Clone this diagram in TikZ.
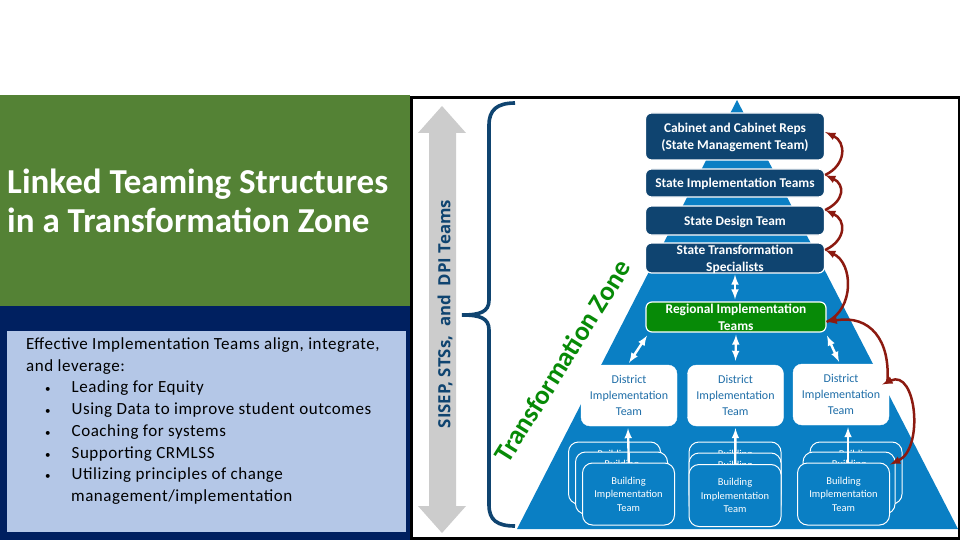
\documentclass[tikz,border=0pt]{standalone}
\usepackage{fontspec}
\setmainfont{Carlito}
\newfontfamily\supportfont{Open Sans}
\usetikzlibrary{arrows}
\definecolor{navyband}{HTML}{002060}
\definecolor{leafgreen}{HTML}{548235}
\definecolor{paleblue}{HTML}{B4C7E7}
\definecolor{pyrblue}{HTML}{0A7FC4}
\definecolor{statenavy}{HTML}{0F4470}
\definecolor{zonegreen}{HTML}{078A07}
\definecolor{linkred}{HTML}{8C1A10}
\definecolor{teamtext}{HTML}{1F6EA8}
\tikzset{
	statebox/.style={draw=white,line width=1.2pt,fill=statenavy,rounded corners=6pt,minimum width=179pt,align=center,text=white,text depth=0pt,font=\fontsize{13.4}{16.5}\selectfont\bfseries,inner sep=0pt},
	cutbox/.style={statebox,minimum height=30pt,text height=26pt},
	districtbox/.style={draw=white,fill=white,rounded corners=9pt,minimum width=96pt,minimum height=61pt,align=center,text=teamtext,text depth=0pt,font=\fontsize{12}{15.7}\selectfont,inner sep=0pt},
	buildbox/.style={draw=white,line width=1pt,fill=pyrblue,rounded corners=10pt,minimum width=92pt,minimum height=62pt,align=center,text=white,text depth=0pt,font=\fontsize{10.5}{13.5}\selectfont,inner sep=0pt},
	backbox/.style={buildbox,text depth=38pt},
	linkarrow/.style={arrows={latex-latex},white,line width=2.4pt},
	redarrow/.style={arrows={-latex},linkred,line width=2.5pt}
}
\newcommand{\bul}[1]{\hspace*{19pt}{\fontsize{11}{11}\selectfont•}\hspace{21pt}#1}
\begin{document}
\begin{tikzpicture}[x=1pt,y=-1pt]
	\useasboundingbox (0,0) rectangle (960,540);
	
	\node[fill=leafgreen,minimum width=410pt,minimum height=211pt,inner sep=0pt] (titlepanel)
	at (205,200.5) {};
	\node[fill=navyband,minimum width=410pt,minimum height=234pt,inner sep=0pt] (bodypanel)
	at (205,423) {};
	\node[draw=navyband,fill=paleblue,minimum width=400pt,minimum height=202pt,inner sep=0pt] (bodybox)
	at (206,431) {};
	\node[draw=black,line width=3pt,fill=white,minimum width=548pt,minimum height=440pt,inner sep=0pt] (frame)
	at (685,318) {};
	
	\node[anchor=west,align=left,text=white,font=\fontsize{35}{39}\selectfont\bfseries,inner sep=0pt] (title)
	at (7,201) {Linked Teaming Structures\\in a Transformation Zone};
	\node[anchor=north west,align=left,text=black,font=\fontsize{17}{21.7}\selectfont\addfontfeature{LetterSpace=3.2},inner sep=0pt] (body)
	at (26,337.5) {Effective Implementation Teams align, integrate,\\and leverage:\\
	\bul{Leading for Equity}\\\bul{Using Data to improve student outcomes}\\
	\bul{Coaching for systems}\\\bul{Supporting CRMLSS}\\
	\bul{Utilizing principles of change}\\\hspace*{45pt}management/implementation};
	
	% support arrow and brace
	\fill[black!20] (442,106) -- (466,133) -- (456,133) -- (456,506) -- (466,506) -- (442,533)
	-- (418,506) -- (429,506) -- (429,133) -- (418,133) -- cycle;
	\node[rotate=90,text=statenavy,font=\supportfont\fontsize{16.8}{16.8}\selectfont\bfseries,inner sep=0pt] (support)
	at (445,314) {SISEP, STSs,\ \ and\ \ DPI Teams};
	\draw[statenavy,line width=3.6pt] (515,103) .. controls (497,103) and (489,110) .. (489,125)
	-- (489,300) .. controls (489,312) and (480,315) .. (462,315)
	.. controls (480,315) and (489,318) .. (489,330)
	-- (489,505) .. controls (489,520) and (497,526) .. (515,526);
	
	\node[rotate=58,text=zonegreen,font=\fontsize{27}{27}\selectfont\bfseries,inner sep=0pt] (zone)
	at (562.5,361) {Transformation Zone};
	
	% the pyramid goes behind every team
	\fill[pyrblue] (737,100) -- (958,529) -- (517,529) -- cycle;
	
	\node[statebox,minimum height=47pt] (cabinet)
	at (735,136.5) {Cabinet and Cabinet Reps\\(State Management Team)};
	\node[statebox,minimum height=28pt] (implement)
	at (735,183) {State Implementation Teams};
	\node[statebox,minimum height=29pt] (design)
	at (735,220.5) {State Design Team};
	\node[cutbox] (specialists)
	at (735,258) {State Transformation\\Specialists};
	\node[cutbox,fill=zonegreen,minimum width=180pt] (regional)
	at (736,317) {Regional Implementation\\Teams};
	
	\node[districtbox] (district1)
	at (629,395.5) {District\\Implementation\\Team};
	\node[districtbox] (district2)
	at (735.5,395.5) {District\\Implementation\\Team};
	\node[districtbox] (district3)
	at (841,394.5) {District\\Implementation\\Team};
	
	\node[backbox] (back1) at (614.5,473) {Building};
	\node[backbox] (back2) at (735,473) {Building};
	\node[backbox] (back3) at (856,473) {Building};
	\node[backbox] (middle1) at (621.5,483) {Building};
	\node[backbox] (middle2) at (735,484) {Building};
	\node[backbox] (middle3) at (849,483) {Building};
	
	\path[linkarrow] ([yshift=-1pt]specialists.south) edge ([xshift=-1pt,yshift=2pt]regional.north);
	\path[linkarrow] ([yshift=-2pt]regional.south) edge ([yshift=4pt]district2.north);
	\path[linkarrow] ([xshift=-89pt,yshift=-3pt]regional.south) edge ([yshift=2pt]district1.north);
	\path[linkarrow] ([xshift=91pt,yshift=-3pt]regional.south) edge ([yshift=2pt,xshift=-2pt]district3.north);
	\path[linkarrow] ([xshift=-1pt,yshift=-2pt]district1.south) edge ([yshift=-1pt]back1.center -| district1.south);
	\path[linkarrow] ([yshift=-2pt]district2.south) edge ([yshift=-9pt]back2.center);
	\path[linkarrow] ([xshift=7pt,yshift=-2pt]district3.south) edge ([xshift=-8pt,yshift=-10pt]back3.center);
	
	\node[buildbox] (building1)
	at (628.5,494) {Building\\Implementation\\Team};
	\node[buildbox] (building2)
	at (735,495.5) {Building\\Implementation\\Team};
	\node[buildbox] (building3)
	at (843.5,494) {Building\\Implementation\\Team};
	
	\path[redarrow] ([yshift=8pt]implement.east) edge[out=25,in=-25,looseness=1.4] ([yshift=4.5pt]cabinet.east);
	\path[redarrow] ([yshift=10.5pt]design.east) edge[out=25,in=-25,looseness=1.6] ([yshift=8pt]implement.east);
	\path[redarrow] ([yshift=8pt]specialists.east) edge[out=25,in=-25,looseness=1.5] ([yshift=10.5pt]design.east);
	\path[redarrow] ([yshift=-5pt]regional.east) edge[out=25,in=-25,looseness=1.1] ([yshift=8pt]specialists.east);
	\path[redarrow] ([xshift=-2pt,yshift=11pt]district3.east) edge[out=85,in=10,looseness=1.3] ([yshift=-5pt]regional.east);
	\path[redarrow,arrows={latex-latex}] ([yshift=-2pt]building3.north east) edge[out=25,in=25,looseness=1.2] ([xshift=-7pt,yshift=10pt]district3.east);
\end{tikzpicture}
\end{document}
